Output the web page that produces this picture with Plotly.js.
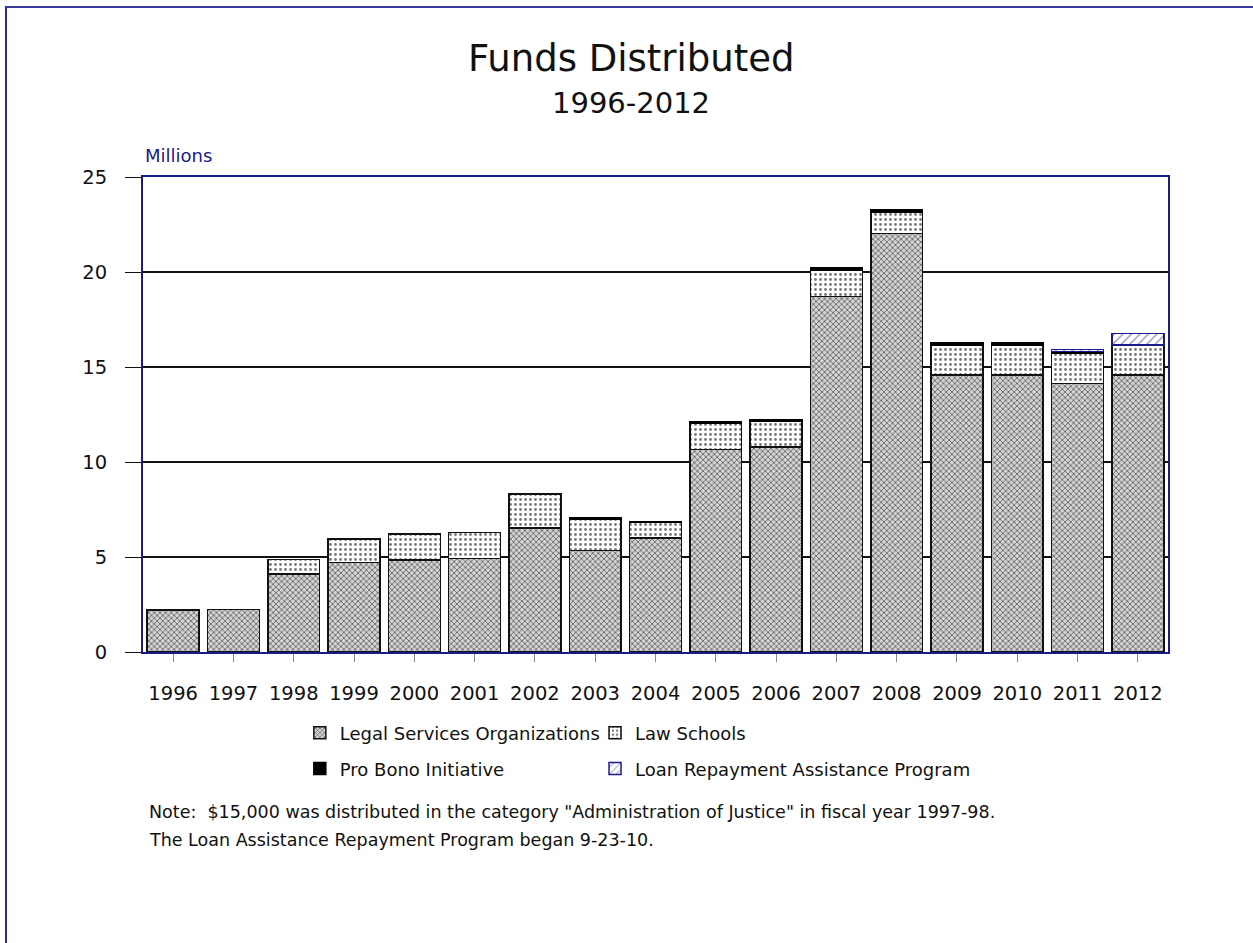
<!DOCTYPE html>
<html>
<head>
<meta charset="utf-8">
<script src="https://cdn.plot.ly/plotly-3.0.1.min.js"></script>
<style>
  html, body { margin: 0; padding: 0; overflow: hidden; background: #fff; }
  #chart { position: absolute; left: 0; top: 0; width: 1253px; height: 943px; }
  #frame { position: absolute; left: 5px; top: 6px; width: 1260px; height: 960px;
           border-top: 2px solid #3a3a9c; border-left: 2px solid #2a2a9c; pointer-events: none; }
</style>
</head>
<body>
<div id="chart"></div>
<div id="frame"></div>
<script>
// ---- data (millions of dollars) ----
const years = ['1996','1997','1998','1999','2000','2001','2002','2003','2004',
               '2005','2006','2007','2008','2009','2010','2011','2012'];
const legalServices = [2.2, 2.25, 4.1, 4.72, 4.84, 4.93, 6.53, 5.35, 6.0,
                       10.67, 10.79, 18.7, 22.02, 14.58, 14.58, 14.14, 14.58];
const lawSchools = [null, null, 0.78, 1.24, 1.37, 1.37, 1.79, 1.63, 0.81,
                    1.36, 1.33, 1.39, 1.12, 1.58, 1.58, 1.61, 1.58];
const proBono = [null, null, null, null, null, null, null, 0.1, 0.07,
                 0.1, 0.12, 0.13, 0.12, 0.12, 0.12, 0.06, null];
const loanRepayment = [null, null, null, null, null, null, null, null, null,
                       null, null, null, null, null, null, 0.12, 0.6];
const seriesNames = ['Legal Services Organizations', 'Law Schools',
                     'Pro Bono Initiative', 'Loan Repayment Assistance Program'];
const noteLines = ['Note:  $15,000 was distributed in the category "Administration of Justice" in fiscal year 1997-98.',
                   'The Loan Assistance Repayment Program began 9-23-10.'];

const FONT = '"DejaVu Sans", "Noto Sans", sans-serif';
const NAVY = '#1a1a8c';

const traces = [
  { type: 'bar', name: seriesNames[0], x: years, y: legalServices, legend: 'legend',
    marker: { color: '#d4d4d4', line: { color: '#111', width: 1.5 },
              pattern: { shape: 'x', fgcolor: '#555', bgcolor: '#d4d4d4', size: 4, solidity: 0.35 } } },
  { type: 'bar', name: seriesNames[1], x: years, y: lawSchools, legend: 'legend2',
    marker: { color: '#ffffff', line: { color: '#111', width: 1.5 },
              pattern: { shape: '.', fgcolor: '#777', bgcolor: '#ffffff', size: 5, solidity: 0.25 } } },
  { type: 'bar', name: seriesNames[2], x: years, y: proBono, legend: 'legend3',
    marker: { color: '#000000', line: { color: '#000', width: 1.5 } } },
  { type: 'bar', name: seriesNames[3], x: years, y: loanRepayment, legend: 'legend4',
    marker: { color: '#ffffff', line: { color: NAVY, width: 1.5 },
              pattern: { shape: '/', fgcolor: '#8a8ab0', bgcolor: '#ffffff', size: 6, solidity: 0.2 } } }
];

function legendAt(x, y) {
  return { x: x, y: y, xanchor: 'left', yanchor: 'middle', orientation: 'v',
           bgcolor: 'rgba(0,0,0,0)', borderwidth: 0,
           font: { family: FONT, size: 18, color: '#111' } };
}

const layout = {
  width: 1253, height: 943,
  margin: { l: 143, r: 85, t: 177, b: 291 },
  paper_bgcolor: '#ffffff', plot_bgcolor: '#ffffff',
  barmode: 'stack', bargap: 0.14,
  font: { family: FONT, color: '#111' },
  showlegend: true,
  legend: legendAt(0.153, -0.1705),
  legend2: legendAt(0.441, -0.1705),
  legend3: legendAt(0.153, -0.246),
  legend4: legendAt(0.441, -0.246),
  xaxis: {
    type: 'category', showgrid: false,
    showline: true, linecolor: NAVY, linewidth: 2, mirror: true,
    ticks: 'outside', ticklen: 8, tickcolor: '#888', tickwidth: 1,
    ticklabelstandoff: 15,
    tickfont: { family: FONT, size: 19.5, color: '#111' }
  },
  yaxis: {
    range: [0, 25], dtick: 5, tick0: 0,
    showgrid: true, gridcolor: '#111', gridwidth: 1.2,
    showline: true, linecolor: NAVY, linewidth: 2, mirror: true,
    ticks: 'outside', ticklen: 16, tickcolor: '#111', tickwidth: 1,
    ticklabelstandoff: 14,
    tickfont: { family: FONT, size: 19.5, color: '#111' },
    zeroline: false
  },
  annotations: [
    { text: 'Funds Distributed', xref: 'paper', yref: 'paper', x: 0.476, y: 1.2505,
      xanchor: 'center', yanchor: 'middle', showarrow: false,
      font: { family: FONT, size: 37, color: '#111' } },
    { text: '1996-2012', xref: 'paper', yref: 'paper', x: 0.476, y: 1.156,
      xanchor: 'center', yanchor: 'middle', showarrow: false,
      font: { family: FONT, size: 29, color: '#111' } },
    { text: 'Millions', xref: 'paper', yref: 'paper', x: 0, y: 1.046,
      xanchor: 'left', yanchor: 'middle', showarrow: false,
      font: { family: FONT, size: 18, color: NAVY } },
    { text: noteLines[0], xref: 'paper', yref: 'paper', x: 0.004, y: -0.3368,
      xanchor: 'left', yanchor: 'middle', showarrow: false,
      font: { family: FONT, size: 17.5, color: '#111' } },
    { text: noteLines[1], xref: 'paper', yref: 'paper', x: 0.004, y: -0.3958,
      xanchor: 'left', yanchor: 'middle', showarrow: false,
      font: { family: FONT, size: 17.5, color: '#111' } }
  ]
};

Plotly.newPlot('chart', traces, layout, { displayModeBar: false, staticPlot: true });
</script>
</body>
</html>
